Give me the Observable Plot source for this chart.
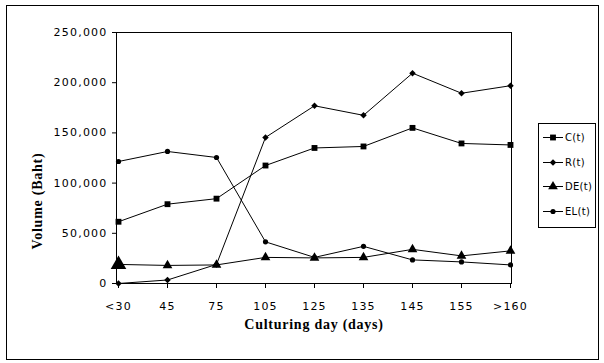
<!DOCTYPE html>
<html>
<head>
<meta charset="utf-8">
<script src="https://cdn.jsdelivr.net/npm/d3@7"></script>
<script src="https://cdn.jsdelivr.net/npm/@observablehq/plot@0.6"></script>
<style>
  html, body { margin: 0; padding: 0; background: white; }
  #wrap { position: relative; width: 604px; height: 363px; overflow: hidden; }
  #wrap svg { position: absolute; left: 0; top: 0; }
</style>
</head>
<body>
<div id="wrap"></div>
<script>
const categories = ["<30", "45", "75", "105", "125", "135", "145", "155", ">160"];
const cValues  = [61500, 79000, 84500, 117500, 135000, 136500, 155000, 139500, 138000];
const rValues  = [0, 3500, 19000, 145500, 177000, 167500, 209500, 189500, 197000];
const deValues = [19000, 18000, 18500, 26000, 25500, 26000, 34000, 27500, 32500];
const elValues = [121500, 131500, 125500, 41500, 26000, 37000, 23500, 21500, 18500];
const seriesNames = ["C(t)", "R(t)", "DE(t)", "EL(t)"];
const seriesSymbols = ["square", "diamond2", "triangle", "circle"];
const seriesRadius = [3.3, 2.9, 3.6, 2.6];
const yTicks = [0, 50000, 100000, 150000, 200000, 250000];
const xTitle = "Culturing day (days)";
const yTitle = "Volume (Baht)";

const seriesValues = [cValues, rValues, deValues, elValues];
const data = [];
seriesNames.forEach((s, i) => {
  categories.forEach((c, j) => data.push({series: s, day: c, value: seriesValues[i][j]}));
});

const dotMarks = seriesNames.map((s, i) =>
  Plot.dot(data.filter(d => d.series === s), {
    x: "day", y: "value", symbol: () => seriesSymbols[i], fill: "black", stroke: "none", r: seriesRadius[i]
  })
);

const chart = Plot.plot({
  width: 604,
  height: 363,
  marginLeft: 116,
  marginRight: 93,
  marginTop: 32,
  marginBottom: 80,
  style: {fontFamily: "DejaVu Sans", fontSize: "11px", background: "white", color: "black"},
  x: {type: "point", domain: categories, padding: 0, label: null},
  y: {domain: [0, 250000], label: null},
  symbol: {type: "identity"},
  marks: [
    Plot.frame({stroke: "black"}),
    Plot.axisX({tickSize: 5, tickPadding: 14, label: null}),
    Plot.axisY({ticks: yTicks, tickSize: 4, tickPadding: 5, tickFormat: d3.format(","), label: null}),
    Plot.line(data, {x: "day", y: "value", z: "series", stroke: "black", strokeWidth: 1}),
    ...dotMarks,
    Plot.dot(data.filter(d => d.series === seriesNames[2] && d.day === categories[0]), {
      x: "day", y: "value", symbol: () => "triangle", fill: "black", r: 5.8
    }),
    Plot.text([xTitle], {frameAnchor: "bottom", dy: 45, text: d => d, textAnchor: "middle",
      fontFamily: "Liberation Serif", fontWeight: "bold", fontSize: 14}),
    Plot.text([yTitle], {frameAnchor: "left", dx: -79, dy: 43, rotate: -90, text: d => d, textAnchor: "middle",
      fontFamily: "Liberation Serif", fontWeight: "bold", fontSize: 14})
  ]
});

const wrap = document.getElementById("wrap");
wrap.appendChild(chart);
const sel = d3.select(chart);
sel.selectAll('g[aria-label="x-axis tick label"] text, g[aria-label="y-axis tick label"] text')
  .style("letter-spacing", "1.2px");
sel.selectAll('g[aria-label="text"] text')
  .style("letter-spacing", "0.75px");

// Overlay: outer border and legend
const ov = d3.select(wrap).append("svg")
  .attr("width", 604).attr("height", 363)
  .attr("font-family", "DejaVu Sans");
ov.append("rect").attr("x", 6.5).attr("y", 5.5).attr("width", 592).attr("height", 354)
  .attr("fill", "none").attr("stroke", "black");

const lg = ov.append("g");
lg.append("rect").attr("x", 538.5).attr("y", 123.5).attr("width", 57).attr("height", 104)
  .attr("fill", "white").attr("stroke", "black");
const legendY = d3.scalePoint().domain(seriesNames).range([137, 211]);
const symMap = {square: d3.symbolSquare, diamond2: d3.symbolDiamond2, triangle: d3.symbolTriangle, circle: d3.symbolCircle};
seriesNames.forEach((s, i) => {
  const y = Math.round(legendY(s)) + 0.5;
  lg.append("line").attr("x1", 543).attr("x2", 563).attr("y1", y).attr("y2", y)
    .attr("stroke", "black");
  lg.append("path").attr("transform", `translate(553,${y})`)
    .attr("d", d3.symbol(symMap[seriesSymbols[i]], Math.PI * seriesRadius[i] * seriesRadius[i])())
    .attr("fill", "black");
  lg.append("text").attr("x", 565).attr("y", y).attr("dy", "0.35em")
    .attr("font-size", 10).style("letter-spacing", "0.3px").text(s);
});
</script>
</body>
</html>
